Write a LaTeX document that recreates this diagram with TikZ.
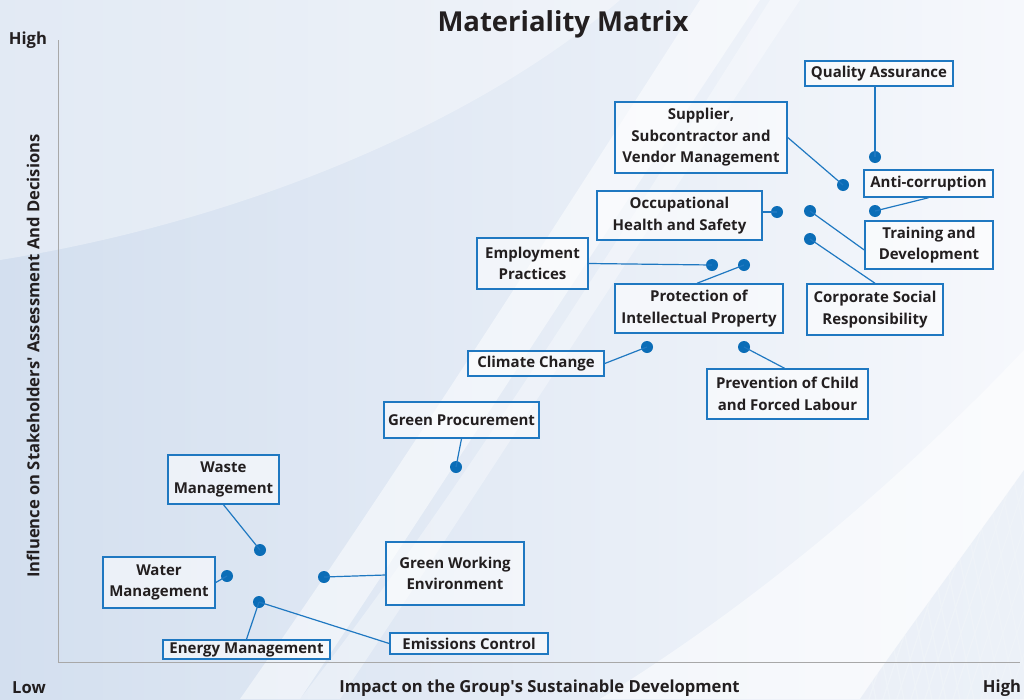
\documentclass[tikz,border=0pt]{standalone}
\usepackage{fontspec}
\setmainfont{Open Sans}
\usetikzlibrary{calc}
\definecolor{boxblue}{HTML}{1F78C1}
\definecolor{dotblue}{HTML}{0B6DB7}
\definecolor{txt}{HTML}{231F20}
\definecolor{bgL}{HTML}{D3DFEF}
\definecolor{bgR}{HTML}{F6F8FC}
\definecolor{axisgray}{HTML}{A8A8A8}
\begin{document}
\begin{tikzpicture}[x=1pt,y=-1pt,
  box/.style={draw=boxblue, line width=1.5pt, fill=white, fill opacity=0.55, text opacity=1,
    align=center, text=txt, inner sep=0pt, font=\bfseries\fontsize{15}{21.5}\selectfont},
  dot/.style={circle, fill=dotblue, inner sep=0pt, minimum size=12pt},
  conn/.style={draw=boxblue, line width=1.2pt},
  axlab/.style={text=txt, font=\bfseries\fontsize{16.6}{19}\selectfont, inner sep=0pt}]
% background
\useasboundingbox (0,0) rectangle (1024,699);
\shade[left color=bgL, right color=bgR] (0,0) rectangle (1024,699);
\fill[white, opacity=0.35] (0,0) -- (620,0) .. controls (480,120) and (250,220) .. (0,260) -- cycle;
\fill[white, opacity=0.5] (240,699) -- (300,699) .. controls (420,520) and (560,300) .. (760,0) -- (700,0) .. controls (520,280) and (380,500) .. cycle;
\fill[white, opacity=0.35] (300,699) -- (340,699) .. controls (460,520) and (600,300) .. (800,0) -- (770,0) .. controls (580,300) and (440,520) .. cycle;
\fill[white, opacity=0.5] (600,699) -- (1024,699) -- (1024,350) .. controls (900,480) and (760,600) .. cycle;
\begin{scope}
\clip (860,699) -- (1024,699) -- (1024,470) .. controls (960,560) and (900,640) .. cycle;
\foreach \i in {0,...,20} {
  \draw[white, line width=1.2pt, opacity=0.9] (820+\i*14,720) -- (920+\i*14,420);
  \draw[white, line width=1.2pt, opacity=0.9] (820+\i*14,420) -- (880+\i*14,720);
}
\fill[bgL, opacity=0.35] (860,699) -- (1024,699) -- (1024,470) .. controls (960,560) and (900,640) .. cycle;
\end{scope}
% axes
\coordinate (o) at (58,662);
\coordinate (ytop) at (58,40);
\coordinate (xend) at (1020,662);
\draw[axisgray, line width=1pt] (ytop) -- (o) -- (xend);
% title and axis labels
\node[text=txt, font=\bfseries\fontsize{27.5}{30}\selectfont, inner sep=0pt] (title) at (563,24) {Materiality Matrix};
\node[axlab] (yhigh) at (28,40) {High};
\node[axlab] (xlow) at (29,688) {Low};
\node[axlab] (xhigh) at (1002,688) {High};
\node[axlab] (xlab) at (539.5,688) {Impact on the Group\textquotesingle s Sustainable Development};
\node[axlab, rotate=90] (ylab) at (33,356) {Influence on Stakeholders\textquotesingle\ Assessment And Decisions};
% boxes
\node[box, minimum width=148, minimum height=25] (qa) at (879,73.5) {Quality Assurance};
\node[box, minimum width=172, minimum height=71] (sup) at (701,137.5) {Supplier,\\Subcontractor and\\Vendor Management};
\node[box, minimum width=129, minimum height=27] (ac) at (928.5,183.5) {Anti-corruption};
\node[box, minimum width=165, minimum height=49] (ohs) at (679.5,215.5) {Occupational\\Health and Safety};
\node[box, minimum width=128, minimum height=48] (tr) at (929,245) {Training and\\Development};
\node[box, minimum width=136, minimum height=51] (csr) at (875,309.5) {Corporate Social\\Responsibility};
\node[box, minimum width=111, minimum height=51] (emp) at (532.5,263.5) {Employment\\Practices};
\node[box, minimum width=168, minimum height=49] (pip) at (699,308.5) {Protection of\\Intellectual Property};
\node[box, minimum width=136, minimum height=25] (cc) at (536,363.5) {Climate Change};
\node[box, minimum width=161, minimum height=50] (pcl) at (787.5,394) {Prevention of Child\\and Forced Labour};
\node[box, minimum width=155, minimum height=36] (gp) at (461.5,420) {Green Procurement};
\node[box, minimum width=111, minimum height=49] (wm) at (223.5,479.5) {Waste\\Management};
\node[box, minimum width=112, minimum height=51] (wtm) at (159,582.5) {Water\\Management};
\node[box, minimum width=138, minimum height=63] (gwe) at (455,573.5) {Green Working\\Environment};
\node[box, minimum width=167, minimum height=19] (em) at (246.5,649.5) {Energy Management};
\node[box, minimum width=158, minimum height=21] (ec) at (469,643.5) {Emissions Control};
% dots
\node[dot] (dqa) at (875,157) {};
\node[dot] (dsup) at (843,185) {};
\node[dot] (dac) at (875,211) {};
\node[dot] (dohs) at (777,212) {};
\node[dot] (dtr) at (810,211) {};
\node[dot] (dcsr) at (810,239) {};
\node[dot] (demp) at (712,265) {};
\node[dot] (dpip) at (744,265) {};
\node[dot] (dcc) at (647,347) {};
\node[dot] (dpcl) at (744,347) {};
\node[dot] (dgp) at (456,467) {};
\node[dot] (dwm) at (260,550) {};
\node[dot] (dwtm) at (227,576) {};
\node[dot] (dgwe) at (324,577) {};
\node[dot] (dem) at (259,602) {};
% connectors
\draw[conn] (dqa.center) -- (dqa |- qa.south);
\draw[conn] (sup.east) -- (dsup.center);
\draw[conn] (ac.south) -- (dac.center);
\draw[conn] (ohs.east |- dohs) -- (dohs.center);
\draw[conn] (dtr.center) -- ($(tr.west)+(0,5)$);
\draw[conn] (dcsr.center) -- (csr.north);
\draw[conn] (emp.east) -- (demp.center);
\draw[conn] (dpip.center) -- ($(pip.north)+(-2,0)$);
\draw[conn] (cc.east) -- (dcc.center);
\draw[conn] (dpcl.center) -- ($(pcl.north)+(-3,0)$);
\draw[conn] (gp.south) -- (dgp.center);
\draw[conn] (wm.south) -- (dwm.center);
\draw[conn] (wtm.east) -- (dwtm.center);
\draw[conn] (dgwe.center) -- ($(gwe.west)+(0,1.5)$);
\draw[conn] (dem.center) -- (em.north);
\draw[conn] (dem.center) -- (ec.west);
\end{tikzpicture}
\end{document}
